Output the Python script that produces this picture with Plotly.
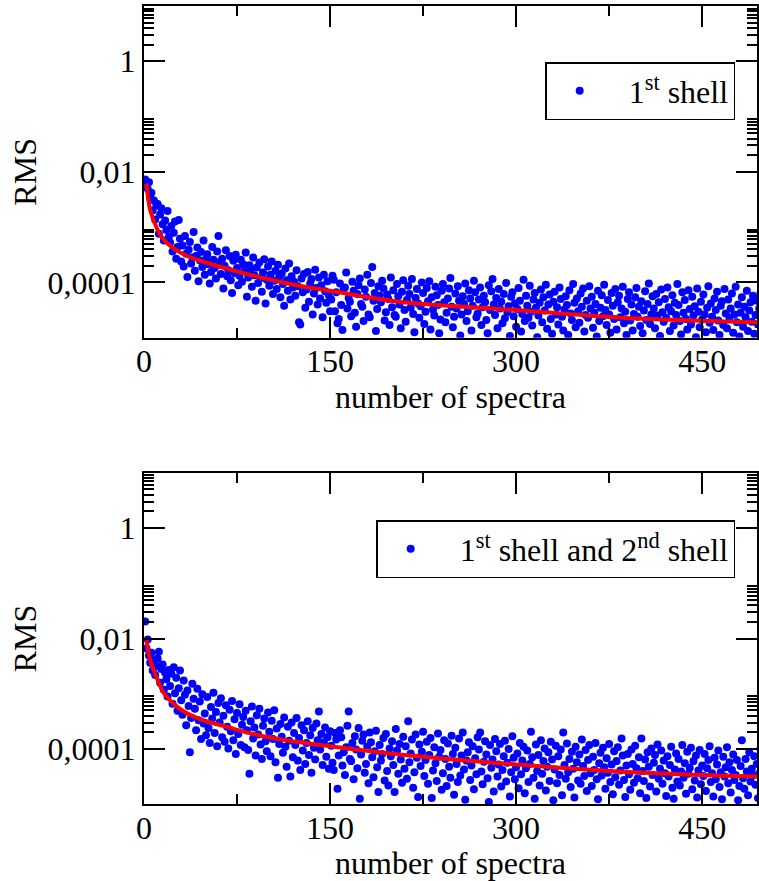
import plotly.graph_objects as go

# number of spectra used for each RMS value
n_spectra = list(range(1, 501))

# log10(RMS), 1st shell fit
log_rms_first = [
    -2.14, -2.20, -2.31, -2.19, -2.45, -2.38, -2.70, -2.52, -2.86, -2.61,
    -2.58, -3.12, -2.77, -2.66, -2.95, -3.24, -2.88, -3.05, -2.71, -3.18,
    -3.28, -2.98, -3.44, -3.10, -2.90, -3.57, -3.36, -2.87, -3.21, -3.62,
    -3.33, -3.71, -3.16, -3.48, -3.90, -3.41, -3.27, -3.66, -3.55, -3.09,
    -3.79, -3.52, -3.37, -3.98, -3.60, -3.45, -3.72, -3.24, -3.86, -3.58,
    -3.49, -3.67, -4.02, -3.81, -3.36, -3.59, -3.74, -3.93, -3.44, -3.16,
    -3.63, -3.85, -3.57, -4.11, -3.70, -3.42, -3.89, -3.78, -3.52, -3.96,
    -4.19, -3.61, -3.83, -3.50, -3.74, -4.05, -3.88, -3.59, -3.99, -3.67,
    -3.80, -3.46, -4.26, -3.91, -3.69, -3.77, -4.08, -3.55, -3.87, -4.33,
    -3.73, -4.01, -3.64, -3.92, -4.17, -3.82, -3.58, -4.38, -3.95, -3.71,
    -4.06, -3.86, -3.62, -4.21, -3.97, -3.79, -4.12, -3.68, -3.90, -4.27,
    -3.84, -4.03, -4.42, -3.75, -3.96, -4.15, -3.66, -4.31, -3.89, -4.09,
    -3.99, -4.24, -3.78, -4.07, -4.72, -4.76, -3.93, -4.18, -3.85, -4.46,
    -4.13, -3.81, -4.35, -4.02, -3.94, -4.58, -4.20, -3.77, -4.10, -4.40,
    -3.91, -4.29, -4.05, -4.63, -3.86, -4.16, -4.37, -3.98, -4.23, -4.52,
    -4.31, -3.88, -3.95, -4.52, -4.18, -4.74, -4.66, -4.02, -4.41, -4.86,
    -4.12, -4.09, -3.82, -4.47, -4.28, -4.35, -4.61, -3.99, -4.15, -4.55,
    -4.80, -4.21, -4.05, -3.93, -4.39, -4.44, -4.70, -4.13, -4.26, -3.86,
    -4.58, -4.63, -4.01, -3.72, -4.33, -4.19, -4.88, -4.48, -4.07, -4.24,
    -4.36, -3.97, -4.11, -4.69, -4.54, -4.22, -4.30, -4.77, -3.91, -4.45,
    -4.14, -4.59, -4.62, -4.03, -4.25, -4.40, -4.83, -4.17, -3.96, -4.50,
    -4.71, -4.32, -4.06, -4.21, -4.46, -3.94, -4.57, -4.90, -4.28, -4.12,
    -4.38, -4.64, -4.43, -4.00, -4.19, -4.75, -4.53, -4.10, -4.34, -3.98,
    -4.85, -4.27, -4.49, -4.60, -4.08, -4.23, -4.41, -4.92, -4.67, -4.15,
    -4.03, -4.36, -4.72, -4.55, -4.29, -4.11, -3.92, -4.44, -4.81, -4.62,
    -4.20, -4.47, -4.07, -4.33, -4.96, -4.58, -4.25, -4.39, -4.02, -4.70,
    -4.52, -4.14, -4.29, -4.87, -4.42, -3.97, -4.18, -4.63, -4.56, -4.31,
    -4.09, -4.77, -4.45, -4.24, -4.36, -4.68, -4.92, -4.05, -4.50, -4.16,
    -3.94, -4.40, -4.59, -4.28, -4.83, -4.12, -4.47, -4.35, -4.74, -4.21,
    -4.65, -4.01, -4.54, -4.43, -4.97, -4.26, -4.18, -4.61, -4.38, -4.80,
    -4.48, -4.10, -4.33, -4.89, -4.57, -3.95, -4.70, -4.24, -4.42, -4.64,
    -4.06, -4.53, -4.78, -4.31, -4.19, -4.46, -4.99, -4.60, -4.37, -4.13,
    -4.72, -4.27, -4.51, -4.04, -4.84, -4.40, -4.22, -4.66, -4.93, -4.35,
    -4.17, -4.58, -4.45, -4.76, -4.09, -4.30, -4.62, -4.87, -4.49, -4.25,
    -4.41, -4.95, -4.14, -4.56, -4.68, -4.03, -4.37, -4.81, -4.29, -4.52,
    -4.73, -4.20, -4.44, -4.11, -4.89, -4.59, -4.33, -4.64, -4.07, -4.47,
    -4.26, -4.82, -4.55, -4.39, -4.98, -4.15, -4.70, -4.46, -4.23, -4.61,
    -4.04, -4.50, -4.77, -4.32, -4.58, -4.91, -4.19, -4.42, -4.66, -4.12,
    -4.85, -4.36, -4.24, -4.63, -4.47, -4.08, -4.74, -4.53, -4.95, -4.30,
    -4.18, -4.69, -4.40, -4.87, -4.57, -4.27, -4.10, -4.62, -4.44, -4.79,
    -4.34, -4.92, -4.51, -4.16, -4.68, -4.39, -4.02, -4.75, -4.58, -4.25,
    -4.47, -4.83, -4.21, -4.60, -4.36, -4.97, -4.13, -4.54, -4.71, -4.30,
    -4.64, -4.09, -4.45, -4.88, -4.52, -4.23, -4.78, -4.37, -4.59, -4.03,
    -4.41, -4.70, -4.94, -4.18, -4.55, -4.32, -4.66, -4.85, -4.14, -4.48,
    -4.76, -4.26, -4.60, -4.43, -4.99, -4.11, -4.53, -4.81, -4.35, -4.67,
    -4.22, -4.58, -4.90, -4.46, -4.07, -4.73, -4.38, -4.62, -4.86, -4.29,
    -4.50, -4.17, -4.69, -4.95, -4.42, -4.34, -4.77, -4.12, -4.56, -4.83,
    -4.31, -4.64, -4.47, -4.20, -4.91, -4.58, -4.08, -4.72, -4.40, -4.98,
    -4.55, -4.27, -4.80, -4.44, -4.63, -4.15, -4.88, -4.51, -4.36, -4.71,
    -4.24, -4.93, -4.59, -4.33, -4.76, -4.47, -4.19, -4.85, -4.66, -4.41,
]

# log10(RMS), 1st and 2nd shell fit
log_rms_both = [
    -1.69, -2.18, -2.02, -2.31, -2.44, -2.26, -2.58, -2.39, -2.66, -2.50,
    -2.36, -2.24, -2.80, -2.55, -2.47, -2.93, -2.62, -2.74, -3.05, -2.57,
    -2.86, -2.64, -3.18, -2.52, -2.99, -2.71, -3.31, -2.90, -2.58, -3.12,
    -3.38, -2.76, -3.02, -3.57, -2.94, -3.22, -4.06, -3.44, -2.82, -3.09,
    -3.27, -3.66, -2.91, -3.48, -3.14, -3.82, -3.01, -3.54, -3.36, -3.75,
    -3.06, -3.62, -3.89, -3.24, -3.45, -2.98, -3.71, -3.33, -3.95, -3.17,
    -3.52, -3.08, -3.79, -3.40, -3.87, -3.21, -3.60, -3.99, -3.29, -3.68,
    -3.13, -3.84, -3.46, -4.09, -3.35, -3.73, -3.19, -3.93, -3.56, -3.42,
    -3.97, -3.31, -3.66, -4.02, -4.45, -3.50, -3.23, -3.81, -3.61, -4.12,
    -3.39, -3.74, -3.27, -3.92, -4.18, -3.58, -3.45, -3.86, -4.04, -3.34,
    -3.69, -4.13, -3.49, -3.82, -3.30, -4.24, -3.63, -4.52, -3.91, -3.55,
    -3.78, -4.07, -3.43, -3.96, -4.32, -3.60, -3.85, -4.50, -3.52, -4.15,
    -3.71, -3.93, -3.44, -4.21, -3.80, -4.38, -3.57, -4.03, -3.66, -4.27,
    -3.89, -3.50, -4.11, -3.75, -4.43, -3.62, -3.98, -4.19, -3.54, -3.84,
    -3.32, -4.01, -3.73, -4.29, -3.88, -3.61, -4.14, -3.79, -4.36, -3.68,
    -3.94, -4.25, -4.38, -3.71, -3.83, -4.72, -4.12, -3.66, -3.79, -4.30,
    -4.06, -4.47, -3.97, -3.58, -3.32, -4.18, -4.22, -3.89, -4.55, -3.77,
    -4.01, -4.35, -3.62, -4.90, -4.10, -3.85, -3.74, -4.43, -4.27, -3.96,
    -4.62, -3.70, -3.88, -4.15, -4.51, -4.04, -3.67, -4.33, -4.78, -3.93,
    -4.21, -4.09, -3.80, -4.57, -3.73, -4.40, -4.66, -3.99, -4.13, -3.86,
    -4.29, -4.78, -3.64, -4.03, -4.45, -3.91, -4.19, -4.61, -3.78, -4.36,
    -3.95, -4.54, -3.50, -4.24, -4.08, -3.83, -4.70, -4.42, -3.74, -4.16,
    -4.87, -3.92, -4.31, -4.05, -3.69, -4.49, -4.20, -3.87, -4.63, -4.11,
    -3.80, -4.89, -4.39, -3.97, -4.26, -4.58, -3.72, -4.14, -4.02, -4.74,
    -4.44, -3.84, -4.18, -4.67, -3.90, -4.32, -4.52, -3.76, -4.09, -4.83,
    -3.98, -4.27, -4.60, -3.81, -4.48, -4.12, -3.70, -4.37, -4.92, -4.21,
    -4.06, -3.88, -4.56, -4.30, -3.95, -4.73, -4.17, -4.46, -3.79, -4.01,
    -3.70, -4.41, -4.64, -4.23, -3.86, -4.10, -4.53, -4.96, -3.93, -4.34,
    -4.19, -4.77, -3.82, -4.04, -4.50, -4.28, -3.91, -4.68, -4.38, -4.13,
    -3.85, -4.59, -4.25, -4.00, -4.86, -4.42, -3.77, -4.16, -4.55, -4.33,
    -4.08, -4.71, -3.89, -4.46, -4.21, -3.96, -4.80, -4.35, -4.03, -4.60,
    -4.27, -3.69, -4.15, -4.52, -4.90, -3.92, -4.40, -4.11, -4.66, -3.84,
    -4.45, -4.22, -3.99, -4.75, -4.32, -4.06, -4.58, -3.87, -4.19, -4.93,
    -4.37, -3.94, -4.62, -4.13, -4.47, -4.01, -4.84, -3.70, -4.29, -4.54,
    -3.90, -4.42, -4.18, -4.69, -4.05, -4.36, -4.88, -3.96, -4.24, -4.57,
    -4.10, -4.63, -3.83, -4.31, -4.49, -4.02, -4.76, -4.20, -3.93, -4.44,
    -4.67, -4.14, -4.38, -3.89, -4.55, -4.91, -4.26, -4.07, -4.48, -3.98,
    -4.33, -4.72, -4.17, -4.43, -3.91, -4.60, -4.28, -4.82, -4.04, -4.51,
    -4.22, -3.97, -4.65, -4.39, -3.81, -4.12, -4.56, -4.87, -4.30, -4.09,
    -4.46, -4.74, -4.01, -4.27, -4.61, -3.94, -4.35, -4.53, -4.15, -4.80,
    -3.81, -4.40, -4.58, -4.19, -4.89, -4.06, -4.32, -4.68, -3.99, -4.47,
    -4.25, -4.11, -4.77, -3.92, -4.54, -4.36, -4.03, -4.63, -4.21, -4.44,
    -4.85, -4.13, -4.50, -4.29, -3.96, -4.70, -4.90, -4.37, -4.08, -4.59,
    -4.18, -4.66, -4.41, -3.93, -4.52, -4.26, -4.81, -4.05, -4.45, -4.34,
    -3.98, -4.73, -4.22, -4.57, -4.12, -4.88, -4.39, -4.02, -4.64, -4.30,
    -4.49, -4.09, -4.76, -4.35, -4.20, -3.95, -4.60, -4.44, -4.86, -4.16,
    -4.55, -4.28, -4.03, -4.69, -4.42, -4.91, -4.14, -4.50, -4.33, -3.97,
    -4.62, -4.24, -4.79, -4.38, -4.10, -4.56, -4.47, -4.20, -4.93, -4.67,
    -4.31, -3.84, -4.53, -4.72, -4.18, -4.41, -4.84, -4.06, -4.59, -4.36,
    -4.48, -4.13, -4.65, -4.27, -4.89, -4.44, -4.00, -4.70, -4.34, -4.57,
]

# fitted decay curves, log10(RMS) at selected numbers of spectra
fit_n = [2, 5, 11, 16, 30, 43, 70, 96, 123, 150, 206, 300, 394, 495]
fit_log_first = [-2.21, -2.69, -3.05, -3.23, -3.47, -3.59, -3.77, -3.92,
                 -4.05, -4.15, -4.35, -4.50, -4.65, -4.72]
fit_log_both = [-2.03, -2.39, -2.75, -2.99, -3.29, -3.44, -3.62, -3.77,
                -3.87, -3.95, -4.10, -4.28, -4.42, -4.50]

NBSP = "\u00a0"
legend_first = NBSP * 2 + "1<sup>st</sup> shell"
legend_both = NBSP * 2 + "1<sup>st</sup> shell and 2<sup>nd</sup> shell"

x_tick_vals = [0, 150, 300, 450]
x_minor_vals = [75, 225, 375]
y_tick_vals = [1e-4, 1e-2, 1]
y_tick_text = ["0,0001", "0,01", "1"]
y_minor_vals = [m * 10.0 ** e for e in (-4, -2, 0) for m in range(2, 10)]

FONT = "Liberation Serif, Times New Roman, Tinos, DejaVu Serif, serif"
FS = 32
W, H = 759, 881


def to_rms(vals):
    return [10.0 ** v for v in vals]


fig = go.Figure()

panels = [
    ("x", "y", log_rms_first, fit_log_first, legend_first, "legend"),
    ("x2", "y2", log_rms_both, fit_log_both, legend_both, "legend2"),
]
for xa, ya, pts, fit, name, leg in panels:
    fig.add_trace(go.Scatter(
        x=n_spectra, y=to_rms(pts), mode="markers", name=name,
        marker=dict(color="#0000ff", size=8, line=dict(width=0)),
        xaxis=xa, yaxis=ya, legend=leg, cliponaxis=True,
    ))
    fig.add_trace(go.Scatter(
        x=fit_n, y=to_rms(fit), mode="lines", showlegend=False,
        line=dict(color="#ff0000", width=4, shape="spline", smoothing=1.0),
        xaxis=xa, yaxis=ya,
    ))


def xaxis_cfg(anchor):
    return dict(
        anchor=anchor, domain=[0, 1], range=[0, (W - 144) / 1.2444],
        tickmode="array", tickvals=x_tick_vals,
        ticks="inside", ticklen=21, tickwidth=2, tickcolor="black",
        ticklabelstandoff=-6,
        showline=True, linecolor="black", linewidth=2, mirror="ticks",
        showgrid=False, zeroline=False,
        minor=dict(tickmode="array", tickvals=x_minor_vals, ticks="inside",
                   ticklen=10, tickwidth=2, tickcolor="black", showgrid=False),
        tickfont=dict(family=FONT, size=FS, color="black"),
        title=dict(text="number of spectra",
                   font=dict(family=FONT, size=FS, color="black"), standoff=0),
    )


def yaxis_cfg(anchor, domain):
    return dict(
        anchor=anchor, domain=domain, type="log", range=[-5, 1],
        tickmode="array", tickvals=y_tick_vals, ticktext=y_tick_text,
        ticks="inside", ticklen=21, tickwidth=2, tickcolor="black",
        showline=True, linecolor="black", linewidth=2, mirror="ticks",
        showgrid=False, zeroline=False,
        minor=dict(tickmode="array", tickvals=y_minor_vals, ticks="inside",
                   ticklen=10, tickwidth=2, tickcolor="black", showgrid=False),
        tickfont=dict(family=FONT, size=FS, color="black"),
        title=dict(text="RMS", font=dict(family=FONT, size=FS, color="black"),
                   standoff=1),
    )


def legend_cfg(top_px):
    return dict(
        x=732 / W, xanchor="right", y=(H - top_px) / H, yanchor="top",
        bgcolor="white", bordercolor="black", borderwidth=1.5,
        font=dict(family=FONT, size=FS, color="black"),
        itemwidth=56, tracegroupgap=0,
    )


fig.update_layout(
    width=W, height=H,
    margin=dict(l=144, r=0, t=0, b=0),
    paper_bgcolor="white", plot_bgcolor="white",
    font=dict(family=FONT, size=FS, color="black"),
    xaxis=xaxis_cfg("y"),
    yaxis=yaxis_cfg("x", [(H - 337.7) / H, (H - 6) / H]),
    xaxis2=xaxis_cfg("y2"),
    yaxis2=yaxis_cfg("x2", [(H - 804.2) / H, (H - 472.8) / H]),
    legend=legend_cfg(62),
    legend2=legend_cfg(520),
)

fig.write_html("out.html")
